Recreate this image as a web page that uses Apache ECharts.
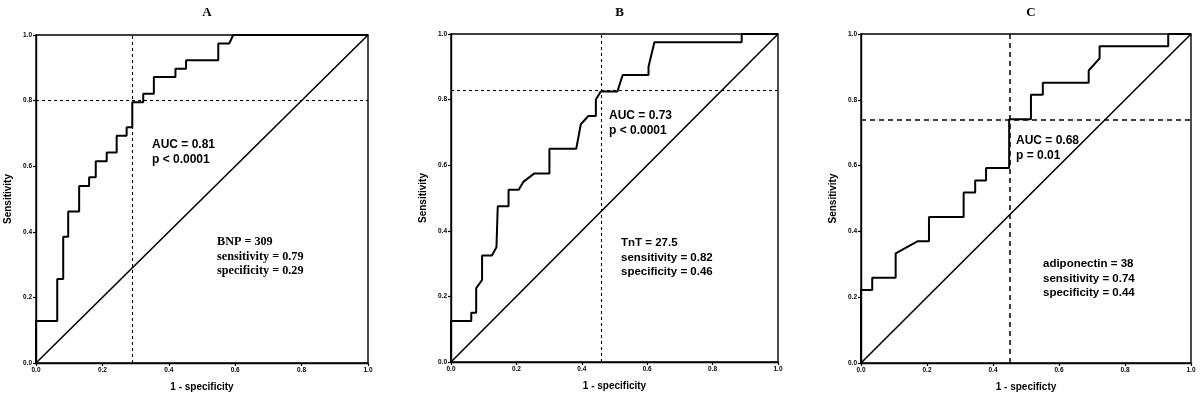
<!DOCTYPE html>
<html>
<head>
<meta charset="utf-8">
<script src="https://cdn.jsdelivr.net/npm/echarts@6/dist/echarts.min.js"></script>
<style>
html,body{margin:0;padding:0;background:#fff;}
#chart{width:1200px;height:400px;}
</style>
</head>
<body>
<div id="chart"></div>
<script>
// ---------- DATA ----------
var panelTitles = ['A', 'B', 'C'];
var xAxisTitles = ['1 - specificity', '1 - specificity', '1 - specificty'];
var yAxisTitle = 'Sensitivity';
var tickValues = [0, 0.2, 0.4, 0.6, 0.8, 1.0];

// ROC curve vertices [1 - specificity, sensitivity]
var rocA = [[0,0],[0,0.128],[0.064,0.128],[0.064,0.256],[0.082,0.256],[0.082,0.385],[0.097,0.385],[0.097,0.462],
  [0.13,0.462],[0.13,0.54],[0.16,0.54],[0.16,0.566],[0.18,0.566],[0.18,0.615],[0.213,0.615],[0.213,0.642],
  [0.243,0.642],[0.243,0.693],[0.273,0.693],[0.273,0.719],[0.29,0.719],[0.29,0.795],[0.323,0.795],[0.323,0.821],
  [0.355,0.821],[0.355,0.872],[0.42,0.872],[0.42,0.897],[0.452,0.897],[0.452,0.923],[0.549,0.923],[0.549,0.974],
  [0.582,0.974],[0.594,1.0],[1,1]];
var rocB = [[0,0],[0,0.125],[0.062,0.125],[0.062,0.15],[0.077,0.15],[0.077,0.225],[0.095,0.25],[0.095,0.325],
  [0.125,0.325],[0.139,0.35],[0.143,0.475],[0.176,0.475],[0.176,0.525],[0.207,0.525],[0.222,0.55],[0.255,0.575],
  [0.301,0.575],[0.301,0.65],[0.383,0.65],[0.397,0.725],[0.42,0.75],[0.443,0.75],[0.443,0.8],[0.458,0.825],
  [0.509,0.825],[0.525,0.875],[0.604,0.875],[0.604,0.9],[0.622,0.975],[0.889,0.975],[0.889,1],[1,1]];
var rocC = [[0,0],[0,0.222],[0.034,0.222],[0.034,0.259],[0.105,0.259],[0.105,0.333],[0.171,0.37],[0.206,0.37],
  [0.206,0.444],[0.311,0.444],[0.311,0.518],[0.346,0.518],[0.346,0.555],[0.379,0.555],[0.379,0.593],[0.449,0.593],
  [0.449,0.741],[0.515,0.741],[0.515,0.815],[0.551,0.815],[0.551,0.852],[0.69,0.852],[0.69,0.889],[0.723,0.926],
  [0.723,0.963],[0.931,0.963],[0.931,1],[1,1]];
var referenceLine = [[0,0],[1,1]];

// cut-off points [1 - specificity, sensitivity]
var cutoffs = [[0.29,0.795],[0.461,0.826],[0.449,0.741]];

var aucTexts = [['AUC = 0.81','p < 0.0001'],['AUC = 0.73','p < 0.0001'],['AUC = 0.68','p = 0.01']];
var cutoffTexts = [['BNP = 309','sensitivity = 0.79','specificity = 0.29'],
                   ['TnT = 27.5','sensitivity = 0.82','specificity = 0.46'],
                   ['adiponectin = 38','sensitivity = 0.74','specificity = 0.44']];

// ---------- LAYOUT / STYLE ----------
var grids = [
  {left:36, top:35, width:332, height:328},
  {left:451, top:34, width:327, height:328},
  {left:861, top:34, width:330, height:329}
];
var aucPos = [[152,137],[609,108],[1016,133]];
var cutPos = [[217,235],[621,236],[1043,257]];
var cutFont = ['bold 12.2px "Liberation Serif", "Times New Roman", serif',
               'bold 11.5px "Liberation Sans", Arial, sans-serif',
               'bold 11.5px "Liberation Sans", Arial, sans-serif'];
var dashStyles = [
  {type:[3,3], width:1.1},
  {type:[3,3], width:1.1},
  {type:[5,4], width:1.5}
];
var rocs = [rocA, rocB, rocC];
var sansBold = '"Liberation Sans", Arial, sans-serif';

var chart = echarts.init(document.getElementById('chart'), null, {renderer:'canvas'});

var option = {
  animation:false,
  backgroundColor:'#fff',
  grid: grids.map(function(g){
    return {left:g.left, top:g.top, width:g.width, height:g.height, show:true, borderColor:'#000', borderWidth:1.4, backgroundColor:'transparent', containLabel:false};
  }),
  xAxis: grids.map(function(g,i){
    return {
      type:'value', gridIndex:i, min:0, max:1, interval:0.2,
      name:xAxisTitles[i], nameLocation:'middle', nameGap:19,
      nameTextStyle:{fontFamily:sansBold, fontWeight:'bold', fontSize:10, color:'#000'},
      axisLine:{show:true, onZero:false, lineStyle:{color:'#000', width:1.4}},
      axisTick:{show:true, length:3, lineStyle:{color:'#000', width:1.2}},
      axisLabel:{fontFamily:sansBold, fontWeight:'bold', fontSize:6.5, color:'#000', margin:4,
        formatter:function(v){return v.toFixed(1);}},
      splitLine:{show:false}
    };
  }),
  yAxis: grids.map(function(g,i){
    return {
      type:'value', gridIndex:i, min:0, max:1, interval:0.2,
      name:yAxisTitle, nameLocation:'middle', nameGap:23, nameRotate:90,
      nameTextStyle:{fontFamily:sansBold, fontWeight:'bold', fontSize:10, color:'#000'},
      axisLine:{show:true, onZero:false, lineStyle:{color:'#000', width:1.4}},
      axisTick:{show:true, length:3, lineStyle:{color:'#000', width:1.2}},
      axisLabel:{fontFamily:sansBold, fontWeight:'bold', fontSize:6.5, color:'#000', margin:4,
        formatter:function(v){return v.toFixed(1);}},
      splitLine:{show:false}
    };
  }),
  title: panelTitles.map(function(t,i){
    var g = grids[i];
    return {text:t, left:g.left + g.width/2, top:1, textAlign:'center',
      textStyle:{fontFamily:'"Liberation Serif", "Times New Roman", serif', fontWeight:'bold', fontSize:13, color:'#000'}};
  }),
  series: []
};

rocs.forEach(function(roc, i){
  option.series.push({
    type:'line', xAxisIndex:i, yAxisIndex:i, data:referenceLine, showSymbol:false, symbol:'none',
    lineStyle:{color:'#000', width:1.6}, z:2
  });
  option.series.push({
    type:'line', xAxisIndex:i, yAxisIndex:i, data:roc, showSymbol:false, symbol:'none',
    lineStyle:{color:'#000', width:2}, z:3,
    markLine:{
      silent:true, symbol:['none','none'], label:{show:false},
      lineStyle:{color:'#000', type:dashStyles[i].type, width:dashStyles[i].width},
      data:[{xAxis:cutoffs[i][0]},{yAxis:cutoffs[i][1]}]
    }
  });
});

var graphics = [];
aucTexts.forEach(function(lines, i){
  graphics.push({type:'text', left:aucPos[i][0], top:aucPos[i][1], z:10,
    style:{text:lines.join('\n'), font:'bold 12px ' + sansBold, fill:'#000', lineHeight:15}});
});
cutoffTexts.forEach(function(lines, i){
  graphics.push({type:'text', left:cutPos[i][0], top:cutPos[i][1], z:10,
    style:{text:lines.join('\n'), font:cutFont[i], fill:'#000', lineHeight:14.5}});
});
option.graphic = graphics;

chart.setOption(option);
</script>
</body>
</html>
